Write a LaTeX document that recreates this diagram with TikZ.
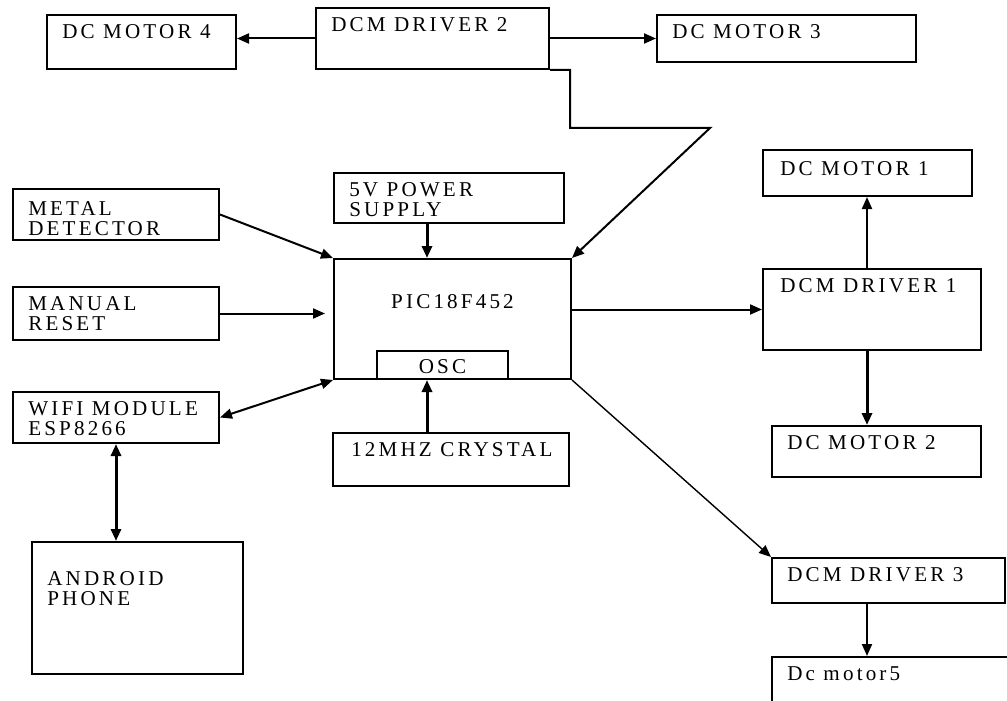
\documentclass[tikz,border=0pt]{standalone}
\usepackage{fontspec}
\setmainfont{Liberation Serif}[LetterSpace=15]
\usetikzlibrary{arrows.meta,fit}
\tikzset{
  % --- BOXES ---
  blk/.style={
    draw=black,
    line width=0.5mm,
    inner sep=0pt
  },
  % box text, top left
  lbl/.style={
    anchor=north west,
    inner sep=0pt,
    align=left,
    xshift=4mm,
    yshift=-2.5mm,
    font=\fontsize{15}{14.5}\selectfont
  },
  % box text, top centre
  lblc/.style={
    anchor=north,
    inner sep=0pt,
    yshift=-9mm,
    font=\fontsize{15}{14.5}\selectfont
  },
  % box text, middle
  lblm/.style={
    anchor=center,
    inner sep=0pt,
    yshift=-0.5mm,
    font=\fontsize{15}{14.5}\selectfont
  },
  % --- ARROWS ---
  arw/.style={
    draw=black,
    line width=0.5mm,
    -{Triangle[length=3mm,width=2.5mm]}
  },
  darw/.style={
    arw,
    {Triangle[length=3mm,width=2.5mm]}-{Triangle[length=3mm,width=2.5mm]}
  },
  thk-arw/.style={arw, line width=0.75mm},
  thn-arw/.style={arw, line width=0.35mm},
}
\begin{document}
\begin{tikzpicture}[x=0.25mm, y=-0.25mm]
  \useasboundingbox (0,0) rectangle (1007,701);
  \clip (0,0) rectangle (1007,701);

  % --- top row
  \node[blk, fit={(47,15) (236,69)}, label={[lbl]north west:DC MOTOR 4}] (m4) {};
  \node[blk, fit={(316,8) (549,69)}, label={[lbl]north west:DCM DRIVER 2}] (d2) {};
  \node[blk, fit={(657,15) (916,62)}, label={[lbl]north west:DC MOTOR 3}] (m3) {};

  % --- inputs
  \node[blk, fit={(13,189) (219,240)}, label={[lbl, yshift=-0.75mm]north west:METAL\\DETECTOR}] (md) {};
  \node[blk, fit={(13,287) (219,340)}, label={[lbl]north west:MANUAL\\RESET}] (mr) {};
  \node[blk, fit={(13,392) (219,443)}, label={[lbl]north west:WIFI MODULE\\ESP8266}] (wf) {};
  \node[blk, fit={(32,542) (243,674)}, label={[lbl, yshift=-5mm]north west:ANDROID\\PHONE}] (ap) {};
  \node[blk, fit={(334,173) (564,223)}, label={[lbl]north west:5V POWER\\SUPPLY}] (ps) {};
  \node[blk, fit={(333,433) (569,486)}, label={[lbl, xshift=0.75mm]north west:12MHZ CRYSTAL}] (cr) {};

  % --- controller
  \node[blk, fit={(334,259) (571,379)}, label={[lblc]north:PIC18F452}] (pic) {};
  \node[blk, fit={(377,351) (508,379)}, label={[lblm]center:OSC}] (osc) {};

  % --- right side
  \node[blk, fit={(763,150) (972,196)}, label={[lbl, xshift=0.5mm, yshift=-0.5mm]north west:DC MOTOR 1}] (m1) {};
  \node[blk, fit={(763,269) (981,350)}, label={[lbl, xshift=0.5mm]north west:DCM DRIVER 1}] (d1) {};
  \node[blk, fit={(772,426) (981,477)}, label={[lbl]north west:DC MOTOR 2}] (m2) {};
  \node[blk, fit={(772,558) (1005,603)}, label={[lbl]north west:DCM DRIVER 3}] (d3) {};
  \node[blk, fit={(772,657) (1040,730)}, label={[lbl]north west:Dc motor5}] (m5) {};

  \coordinate (vx) at (427,0);
  \coordinate (vr) at (867,0);
  \coordinate (bend) at (710,128);

  % --- connectors
  \draw[arw] (d2.west) -- (d2.west -| m4.east);
  \draw[arw] (d2.east) -- (m3.west);
  \draw[arw] (d2.south east) -- ++(20,0) |- (bend) -- (pic.north east);
  \draw[arw] (md.east) -- (pic.north west);
  \draw[thk-arw] (ps.south -| vx) -- (pic.north -| vx);
  \draw[arw, shorten >=2mm] (mr.east) -- (mr.east -| pic.west);
  \draw[darw] (wf.east) -- (pic.south west);
  \draw[darw, line width=0.75mm] (wf.south) -- (wf.south |- ap.north);
  \draw[thk-arw] (cr.north -| vx) -- (osc.south -| vx);
  \draw[arw] (pic.east |- d1.west) -- (d1.west);
  \draw[arw] (d1.north -| vr) -- (m1.south -| vr);
  \draw[thk-arw] (d1.south -| vr) -- (m2.north -| vr);
  \draw[thn-arw] (pic.south east) -- (d3.north west);
  \draw[arw] (d3.south -| vr) -- (m5.north -| vr);

\end{tikzpicture}
\end{document}
